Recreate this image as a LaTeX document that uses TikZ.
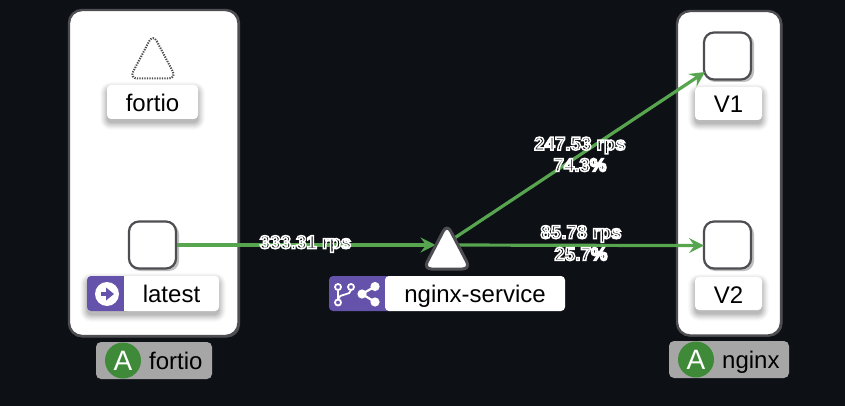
\documentclass[tikz,border=0pt]{standalone}
\usepackage{fontspec}
\setmainfont{Liberation Sans}
\usetikzlibrary{arrows.meta}
\definecolor{bgdark}{HTML}{0D1116}
\definecolor{edgegreen}{HTML}{57A64F}
\definecolor{purp}{HTML}{6552AB}
\definecolor{strokegray}{HTML}{4E4E52}
\definecolor{nsgray}{HTML}{A6A6A6}
\definecolor{nsgreen}{HTML}{3F8A38}
\newcommand{\softshadow}[4]{%
  \foreach \sp/\so in {7/0.02,6/0.025,5/0.03,4/0.035,3/0.04,2/0.045,1/0.05,0/0.055}{%
    \fill[black,opacity=\so,rounded corners=4pt+\sp pt]
      (#1-\sp,#2+4-\sp) rectangle (#3+\sp,#4+4+\sp);}}
\newcommand{\outlined}[1]{{\bfseries\addfontfeature{FakeBold=8}\special{pdf:code 1 1 1 RG}#1}}
\tikzset{
  appbox/.style={draw=strokegray,line width=2.4pt,fill=white,rounded corners=13pt},
  appshade/.style={fill=strokegray,rounded corners=13pt},
  wnode/.style={draw=strokegray,line width=2.2pt,fill=white,rounded corners=10pt,
    minimum width=47pt,minimum height=47pt,inner sep=0pt},
  wshade/.style={fill=black!25,rounded corners=10pt},
  lbl/.style={fill=white,rounded corners=4pt,inner sep=0pt,font=\fontsize{24}{24}\selectfont,text=black,text height=19pt,text depth=2pt},
  lbllow/.style={lbl,text height=20pt,text depth=1pt},
  edgeline/.style={draw=edgegreen,line width=3.2pt},
  tipped/.style={edgeline,-{Stealth[length=15pt,width=15pt,inset=5.5pt]}},
  rate/.style={font=\fontsize{18.7}{19}\selectfont,inner sep=0pt,text=black},
  nsbox/.style={fill=nsgray,rounded corners=5pt,inner sep=0pt},
  nscircle/.style={circle,fill=nsgreen,minimum size=36pt,inner sep=0pt,text=white,font=\fontsize{28}{28}\selectfont},
  nstext/.style={inner sep=0pt,font=\fontsize{24}{24}\selectfont,text=black},
  iconw/.style={draw=white,line width=1.8pt,line cap=round},
}
\begin{document}
\begin{tikzpicture}[x=1pt,y=-1pt]
\useasboundingbox (0,0) rectangle (845,406);
\fill[bgdark] (0,0) rectangle (845,406);
% application boxes
\fill[appshade] (69,9.5) rectangle (240,337.5);
\fill[appshade] (677,11) rectangle (782.5,336.5);
\path[appbox] (69,10) rectangle (238.5,336);
\path[appbox] (677,11) rectangle (781,335.5);
% service triangle anchor and endpoints
\coordinate (svc) at (447,245);
\coordinate (v1in) at (705,72);
\coordinate (v2in) at (704,245.6);
% workload nodes
\fill[wshade] (130,224) rectangle (179,271);
\fill[wshade] (705,34) rectangle (754,82);
\fill[wshade] (705,224) rectangle (754,271);
\node[wnode] (latest) at (152.5,245) {};
\node[wnode] (v1) at (727.5,56) {};
\node[wnode] (v2) at (727.5,245) {};
% edges
\draw[tipped,shorten >=11.5pt] (latest.east) -- (svc);
\draw[tipped] ([yshift=2pt]svc) -- (v1in);
\draw[tipped] (svc) -- (v2in);
% triangles
\path[draw=strokegray,line width=3pt,fill=white,rounded corners=8pt,line join=round]
  (447,224) -- (470.5,269) -- (423.5,269) -- cycle;
\path[draw=strokegray,line width=2pt,dash pattern=on 1.3pt off 1.2pt,fill=white,rounded corners=8pt]
  (153,34) -- (176.5,78.5) -- (129.5,78.5) -- cycle;
% labels with soft shadows
\softshadow{107}{85}{198}{119}
\softshadow{87}{276}{219}{311}
\softshadow{695}{87}{762}{120}
\softshadow{695}{277}{762}{310}
\node[lbllow,minimum width=91pt,minimum height=34pt] (lfortio) at (152.5,102) {fortio};
\fill[purp,rounded corners=4pt] (87,276) rectangle (130,311);
\node[lbl,minimum width=95pt,minimum height=35pt] (llatest) at (171.5,293.5) {latest};
\fill[purp] (118,276) rectangle (124,311);
\fill[white] (124,276) rectangle (131,311);
\node[lbllow,minimum width=67pt,minimum height=33pt] (lv1) at (728.5,103.5) {V1};
\node[lbllow,minimum width=67pt,minimum height=33pt] (lv2) at (728.5,293.5) {V2};
% latest badge icon
\fill[white] (107,294) circle (12);
\fill[purp] (100.5,292) rectangle (107,296);
\fill[purp] (106,287.5) -- (114,294) -- (106,300.5) -- cycle;
% service label
\fill[purp,rounded corners=4pt] (329,276) rectangle (395,311);
\node[lbl,minimum width=180pt,minimum height=35pt] (lsvc) at (475,293.5) {nginx-service};
% branch icon
\draw[iconw] (338,287) circle (3);
\draw[iconw] (351,287) circle (3);
\draw[iconw] (338,302.5) circle (3);
\draw[iconw] (338,290) -- (338,299.5);
\draw[iconw] (351,290) .. controls (351,296) and (339,293) .. (338,299);
% share icon
\fill[white] (362,294) circle (4.6);
\fill[white] (375,286.5) circle (4.6);
\fill[white] (375,302) circle (4.6);
\draw[iconw,line width=2.2pt] (362,294) -- (375,286.5);
\draw[iconw,line width=2.2pt] (362,294) -- (375,302);
% namespace badges
\node[nsbox,minimum width=116pt,minimum height=37pt] (nsf) at (154,360.5) {};
\node[nscircle] (af) at (123,360.5) {A};
\node[nstext,anchor=base west] (tf) at (149,369) {fortio};
\node[nsbox,minimum width=120pt,minimum height=37pt] (nsn) at (729,359.5) {};
\node[nscircle] (an) at (696,359.5) {A};
\node[nstext,anchor=base west] (tn) at (722,368) {nginx};
% edge rates
\node[rate] (r0) at (305.5,244) {\outlined{333.31 rps}};
\node[rate] (r1) at (580,145.5) {\outlined{247.53 rps}};
\node[rate] (r1p) at (580,165) {\outlined{74.3\%}};
\node[rate] (r2) at (581,234) {\outlined{85.78 rps}};
\node[rate] (r2p) at (581,254) {\outlined{25.7\%}};
\end{tikzpicture}
\end{document}
